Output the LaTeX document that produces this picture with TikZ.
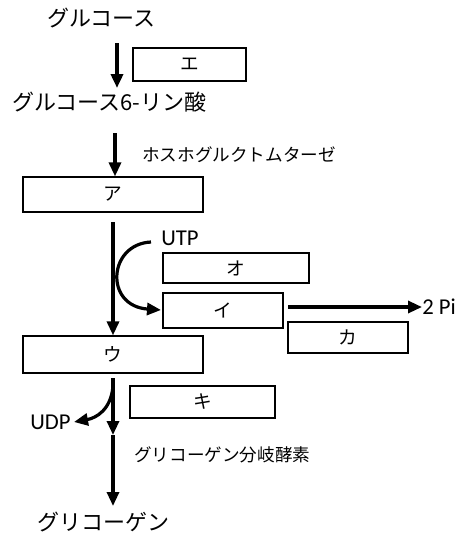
\documentclass[tikz,border=0pt]{standalone}
\usepackage{fontspec}
\setmainfont{Carlito}
\newfontfamily\jp{Noto Sans CJK JP}
\usetikzlibrary{arrows.meta}
\tikzset{
  box/.style={draw, line width=0.9pt, inner sep=0pt, font=\jp\fontsize{14}{14}\selectfont},
  bigtxt/.style={anchor=west, inner sep=0pt, font=\jp\fontsize{16.5}{16.5}\selectfont},
  smalltxt/.style={anchor=west, inner sep=0pt, font=\jp\fontsize{13.2}{13.2}\selectfont},
  lattxt/.style={anchor=west, inner sep=0pt, font=\fontsize{17}{17}\selectfont},
  flow/.style={line width=2.4pt, -{Triangle[length=10.5pt,width=9pt]}},
}
\begin{document}
\begin{tikzpicture}[x=0.75pt,y=-0.75pt]
\useasboundingbox (0,0) rectangle (465,537);
% boxes
\node[box, minimum width=113*0.75pt, minimum height=33*0.75pt] (E) at (189.5,64.5) {エ};
\node[box, minimum width=180*0.75pt, minimum height=35*0.75pt] (A) at (113,194.5) {ア};
\node[box, minimum width=146*0.75pt, minimum height=30*0.75pt] (O) at (236,268) {オ};
\node[box, minimum width=120*0.75pt, minimum height=35*0.75pt] (I) at (223,310.5) {イ};
\node[box, minimum width=120*0.75pt, minimum height=31*0.75pt] (K) at (348,337.5) {カ};
\node[box, minimum width=180*0.75pt, minimum height=37*0.75pt] (U) at (113,354.5) {ウ};
\node[box, minimum width=145*0.75pt, minimum height=32*0.75pt] (Ki) at (202.5,402) {キ};
% texts
\node[bigtxt] (glc) at (47,18) {グルコース};
\node[bigtxt] (g6p) at (12,102) {グルコース6-リン酸};
\node[smalltxt] (pgm) at (142,155) {ホスホグルクトムターゼ};
\node[lattxt] (utp) at (161,238) {UTP};
\node[lattxt] (pi) at (422,307) {2 Pi};
\node[lattxt] (udp) at (30,422) {UDP};
\node[smalltxt] (gbe) at (134,455) {グリコーゲン分岐酵素};
\node[bigtxt] (gly) at (37,522) {グリコーゲン};
% coordinates
\coordinate (a1s) at (117,43);
\coordinate (a1e) at (117,88);
\coordinate (a2s) at (115,133);
\coordinate (a3s) at (113,222);
\coordinate (c1s) at (151,242);
\coordinate (c1e) at (161,310);
\coordinate (p1s) at (288,307);
\coordinate (b1s) at (113,378);
\coordinate (bmid) at (113,435);
\coordinate (bend) at (113,506);
\coordinate (u1s) at (113,386);
\coordinate (u1e) at (74,422);
% arrows
\draw[flow, line width=3pt] (a1s) -- (a1e);
\draw[flow] (a2s) -- (a2s |- A.north);
\draw[flow] (a3s) -- (a3s |- U.north);
\draw[flow] (c1s) .. controls (108,244) and (104,306) .. (c1e);
\draw[flow] (p1s) -- (pi.west);
\draw[flow] (b1s) -- (bmid);
\draw[flow] (bmid) -- (bend);
\draw[flow] (u1s) .. controls (111,410) and (96,418) .. (u1e);
\end{tikzpicture}
\end{document}
